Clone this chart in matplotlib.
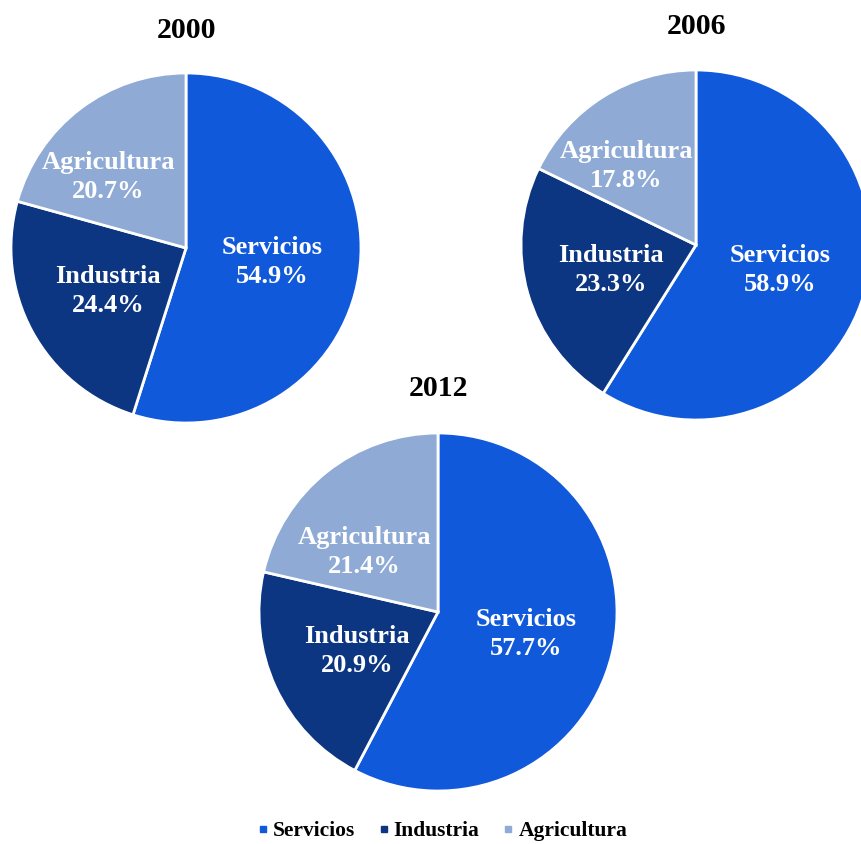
import matplotlib.pyplot as plt
from matplotlib.lines import Line2D

plt.rcParams['font.family'] = ['Liberation Serif', 'DejaVu Serif']
plt.rcParams['font.weight'] = 'bold'

sectors = ['Servicios', 'Industria', 'Agricultura']
colors = ['#1159DB', '#0C3682', '#8FABD5']
years = ['2000', '2006', '2012']
shares = {
    '2000': [54.9, 24.4, 20.7],
    '2006': [58.9, 23.3, 17.8],
    '2012': [57.7, 20.9, 21.4],
}

W, H = 861, 844
# pie centres and radii in pixels
layout = {'2000': (186, 248, 175), '2006': (696, 245, 175), '2012': (438, 612, 179)}
title_y = {'2000': 30, '2006': 27, '2012': 389}
# label block offsets from the pie centre (pixels, y down)
label_off = {
    '2000': [(86, 14), (-78, 43), (-78, -71)],
    '2006': [(84, 25), (-85, 25), (-70, -79)],
    '2012': [(88, 22), (-81, 39), (-74, -60)],
}

fig = plt.figure(figsize=(W / 100, H / 100), dpi=100)
for yr in years:
    cx, cy, r = layout[yr]
    ax = fig.add_axes([(cx - r) / W, (H - cy - r) / H, 2 * r / W, 2 * r / H])
    vals = shares[yr]
    ax.pie(vals, colors=colors, startangle=90, counterclock=False,
           wedgeprops=dict(edgecolor='white', linewidth=2))
    for s, v, (dx, dy) in zip(sectors, vals, label_off[yr]):
        ax.text(dx / r, -dy / r, f'{s}\n{v:.1f}%', ha='center', va='center',
                color='white', fontsize=19, fontweight='bold', linespacing=1.28)
    ax.set_xlim(-1, 1)
    ax.set_ylim(-1, 1)
    ax.set_aspect('equal')
    ax.axis('off')
    fig.text(cx / W, 1 - title_y[yr] / H, yr, ha='center', va='center',
             fontsize=21.5, fontweight='bold')

handles = [Line2D([], [], marker='s', linestyle='none', markersize=5,
                  markerfacecolor=c, markeredgecolor=c) for c in colors]
fig.legend(handles, sectors, loc='center', bbox_to_anchor=(443 / W, 1 - 831 / H),
           ncol=3, frameon=False, fontsize=15.5, handletextpad=0.3,
           columnspacing=1.15, handlelength=0.35, borderpad=0)

fig.savefig('out.png', dpi=100)
